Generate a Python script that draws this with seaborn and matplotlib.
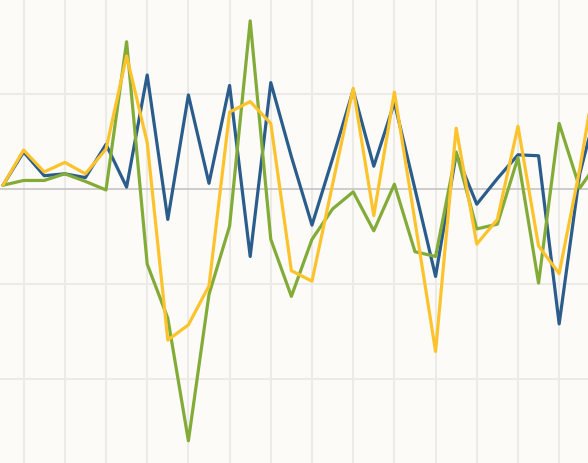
import numpy as np
import pandas as pd
import matplotlib
matplotlib.use("Agg")
import matplotlib.pyplot as plt
import seaborn as sns

periods = list(range(30))
series_blue = [0.04, 0.39, 0.14, 0.16, 0.12, 0.47, 0.02, 1.20, -0.32, 0.99,
               0.06, 1.09, -0.71, 1.12, 0.34, -0.38, 0.32, 1.04, 0.24, 0.91,
               0.00, -0.92, 0.37, -0.16, 0.11, 0.36, 0.35, -1.42, 0.16, 1.00]
series_green = [0.04, 0.09, 0.09, 0.16, 0.08, -0.01, 1.55, -0.79, -1.36, -2.65,
                -1.11, -0.39, 1.77, -0.53, -1.13, -0.53, -0.21, -0.03, -0.44, 0.05,
                -0.66, -0.71, 0.39, -0.42, -0.37, 0.33, -0.99, 0.69, 0.01, 0.32]
series_yellow = [0.04, 0.41, 0.18, 0.28, 0.16, 0.42, 1.40, 0.49, -1.59, -1.43,
                 -1.02, 0.81, 0.92, 0.69, -0.86, -0.97, 0.05, 1.06, -0.28, 1.02,
                 -0.34, -1.71, 0.64, -0.58, -0.32, 0.66, -0.60, -0.89, 0.21, 1.50]
series_names = ["A", "B", "C"]
colors = ["#2b5d8c", "#82ab38", "#fcc32c"]

df = pd.concat([
    pd.DataFrame({"period": periods, "value": vals, "series": name})
    for name, vals in zip(series_names, [series_blue, series_green, series_yellow])
], ignore_index=True)

sns.set_style("white")
fig = plt.figure(figsize=(5.88, 4.64), dpi=100)
fig.patch.set_facecolor("#fcfbf8")
ax = fig.add_axes([0, 0, 1, 1])
ax.set_facecolor("#fcfbf8")

# grid
for xv in np.arange(1, 30, 2):
    ax.axvline(xv, color="#ecebe8", lw=1.5, zorder=0)
for yv in [2, 1, -1, -2]:
    ax.axhline(yv, color="#ecebe8", lw=1.5, zorder=0)
ax.axhline(0, color="#c4c4c4", lw=1.2, zorder=1)

sns.lineplot(data=df, x="period", y="value", hue="series", palette=colors,
             hue_order=series_names, linewidth=2.3, legend=False, ax=ax,
             estimator=None, sort=False, zorder=3)

ax.set_xlim(-0.146, 28.4)
ax.set_ylim(-2.884, 2.0)
ax.set_xticks([])
ax.set_yticks([])
ax.set_xlabel("")
ax.set_ylabel("")
for s in ax.spines.values():
    s.set_visible(False)

fig.savefig("out.png", dpi=100, facecolor=fig.get_facecolor())
